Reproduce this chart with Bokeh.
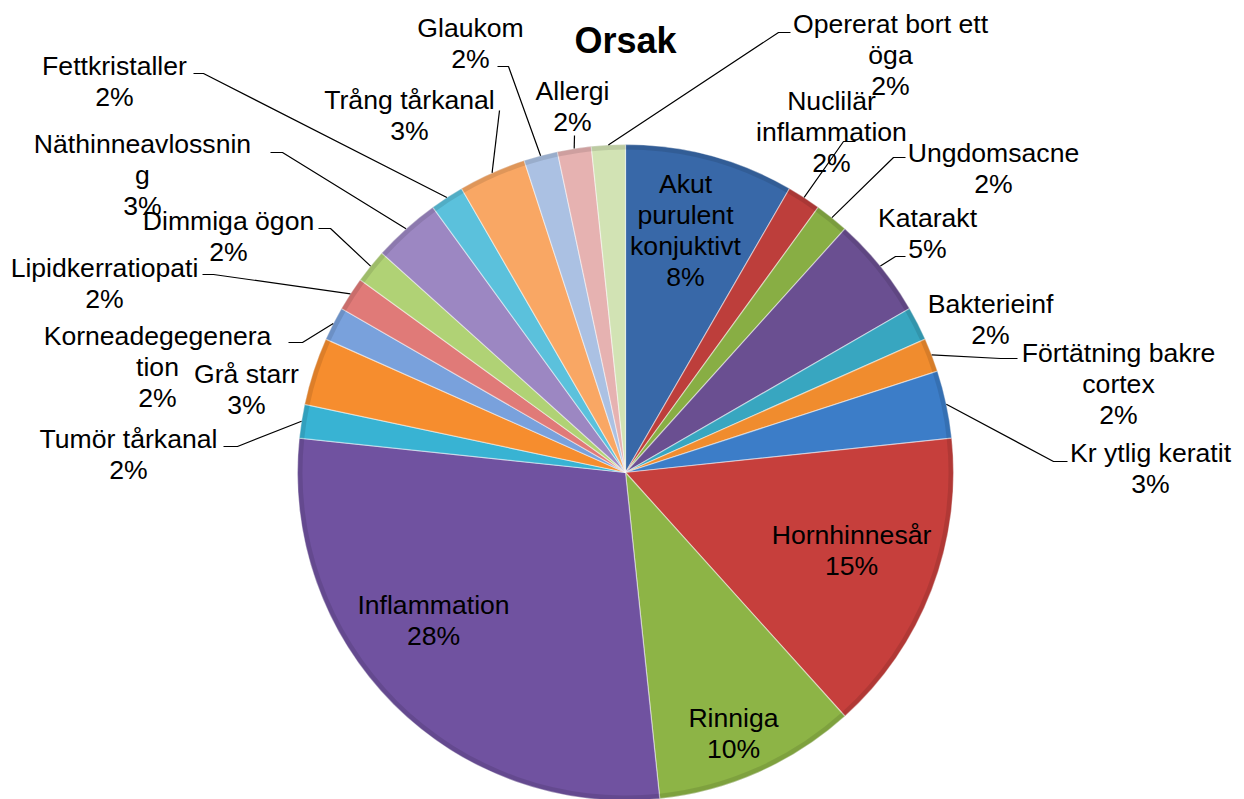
import numpy as np
from bokeh.plotting import figure
from bokeh.models import Range1d, ColumnDataSource
from bokeh.core.properties import value
from bokeh.embed import file_html
from bokeh.resources import INLINE

# ---------------- data ----------------
categories = [
    "Akut purulent konjuktivt", "Nuclilär inflammation", "Ungdomsacne", "Katarakt",
    "Bakterieinf", "Förtätning bakre cortex", "Kr ytlig keratit", "Hornhinnesår",
    "Rinniga", "Inflammation", "Tumör tårkanal", "Grå starr", "Korneadegegeneration",
    "Lipidkerratiopati", "Dimmiga ögon", "Näthinneavlossning", "Fettkristaller",
    "Trång tårkanal", "Glaukom", "Allergi", "Opererat bort ett öga",
]
counts = [5, 1, 1, 3, 1, 1, 2, 9, 6, 17, 1, 2, 1, 1, 1, 2, 1, 2, 1, 1, 1]
title_text = "Orsak"

# ---------------- styles / layout ----------------
colors = [
    "#3868A8", "#BD3E3B", "#88AE44", "#6A4F91", "#38A6C0", "#F08C2E",
    "#3C7DC8", "#C63F3C", "#8DB446", "#7052A0", "#38B3D3", "#F68D2E",
    "#79A1DC", "#E07A78", "#B0D275", "#9C87C2", "#5BC1DC", "#F9A764",
    "#ABC1E3", "#E6B2B1", "#D2E3B4",
]

# wrapped label lines (Excel-style wrapping)
wrapped = {
    "Akut purulent konjuktivt": ["Akut", "purulent", "konjuktivt"],
    "Nuclilär inflammation": ["Nuclilär", "inflammation"],
    "Förtätning bakre cortex": ["Förtätning bakre", "cortex"],
    "Korneadegegeneration": ["Korneadegegenera", "tion"],
    "Näthinneavlossning": ["Näthinneavlossnin", "g"],
    "Opererat bort ett öga": ["Opererat bort ett", "öga"],
}

# label block positions (page pixels: centre x, centre y of first line)
label_pos = [
    (685, 183), (831, 100), (993, 152), (927, 217), (990, 303), (1118, 352),
    (1150, 452), (851, 534), (733, 717), (433, 604), (128, 438), (246, 373),
    (157, 335), (104, 267), (228, 220), (142, 143), (114, 65), (409, 99),
    (470, 27), (572, 90), (890, 23),
]
# leader lines: (elbow, end) in page pixels, None = no leader
leaders = [
    None, ((843, 141), (855, 141)), ((893, 157), (905, 157)), ((895, 256), (905, 256)),
    None, ((1000, 358), (1017, 358)), ((1053, 461), (1067, 461)), None, None, None,
    ((237, 446), (223, 446)), None, ((302, 342), (288, 342)), ((213, 274), (202, 274)),
    ((330, 228), (318, 228)), ((282, 152), (270, 152)), ((203, 73), (193, 73)),
    ((499, 110), (499, 110)), ((508, 66), (497, 66)), ((574, 135), (574, 135)),
    ((778, 32), (790, 32)),
]

W, H = 1244, 799
LINE = 31
FONT = "Liberation Sans"


def X(x):
    return x


def Y(y):
    return H - y


CX, CY, R = X(625), Y(472), 328

total = float(sum(counts))
frac = np.array(counts) / total
cum = np.cumsum(frac)
start_cw = (cum - frac) * 2 * np.pi
end_cw = cum * 2 * np.pi
mid_cw = (start_cw + end_cw) / 2
pcts = [f"{int(round(100 * f))}%" for f in frac]

p = figure(width=W, height=H, output_backend="svg", toolbar_location=None,
           x_range=Range1d(0, W), y_range=Range1d(0, H), min_border=0)
p.axis.visible = False
p.grid.visible = False
p.outline_line_color = None
p.background_fill_color = "white"
p.border_fill_color = "white"

src = ColumnDataSource(dict(
    cat=categories, count=counts, color=colors,
    start=np.pi / 2 - end_cw, end=np.pi / 2 - start_cw,
))
p.wedge(x=CX, y=CY, radius=R, start_angle="start", end_angle="end",
        fill_color="color", line_color="#ffffff", line_alpha=0.45, line_width=1.2,
        source=src)
# soft rim shading
p.annular_wedge(x=CX, y=CY, inner_radius=R - 5, outer_radius=R,
                start_angle="start", end_angle="end", fill_color="black",
                fill_alpha=0.10, line_color=None, source=src)

# leader lines
xs, ys = [], []
for i, ld in enumerate(leaders):
    if ld is None:
        continue
    ex = CX + R * np.sin(mid_cw[i])
    ey = CY + R * np.cos(mid_cw[i])
    (bx, by), (tx, ty) = ld
    xs.append([ex, X(bx), X(tx)])
    ys.append([ey, Y(by), Y(ty)])
p.multi_line(xs=xs, ys=ys, line_color="black", line_width=1.2)

# labels
tx_, ty_, tt_ = [], [], []
for i, cat in enumerate(categories):
    lines = wrapped.get(cat, [cat]) + [pcts[i]]
    lx, ly = label_pos[i]
    for k, ln in enumerate(lines):
        tx_.append(X(lx))
        ty_.append(Y(ly + k * LINE))
        tt_.append(ln)
p.text(x=tx_, y=ty_, text=tt_, text_align="center", text_baseline="middle",
       text_font=value(FONT), text_font_size="26.6px", text_color="black")

p.text(x=[X(625)], y=[Y(40)], text=[title_text], text_align="center",
       text_baseline="middle", text_font=value(FONT), text_font_size="36px",
       text_font_style="bold", text_color="black")

open("out.html", "w").write(file_html(p, INLINE))
